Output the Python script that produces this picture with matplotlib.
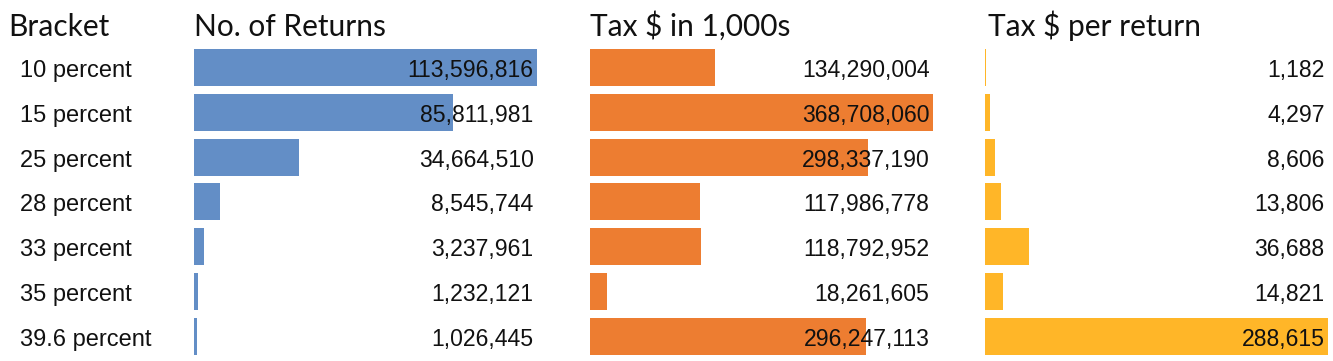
import numpy as np
import matplotlib
matplotlib.use("Agg")
from matplotlib import pyplot as plt
from matplotlib import transforms

# data
brackets = ["10 percent", "15 percent", "25 percent", "28 percent",
            "33 percent", "35 percent", "39.6 percent"]
returns = [113596816, 85811981, 34664510, 8545744, 3237961, 1232121, 1026445]
tax_1000s = [134290004, 368708060, 298337190, 117986778, 118792952, 18261605, 296247113]
tax_per_return = [1182, 4297, 8606, 13806, 36688, 14821, 288615]

headers = ["Bracket", "No. of Returns", "Tax $ in 1,000s", "Tax $ per return"]
colors = ["#638EC6", "#ED7D31", "#FFB628"]

W, H = 1333, 361
fig = plt.figure(figsize=(W / 100, H / 100), dpi=100)

row_h = 44.8
top = 45.0
n = len(brackets)
col_left = [194, 590, 985]
col_w = 343

num_font = "Liberation Sans"
head_font = "Lato"
base_off = 9.5 / row_h  # text baseline sits a bit below bar centre

axes = []
for i, vals in enumerate([returns, tax_1000s, tax_per_return]):
    ax = fig.add_axes([col_left[i] / W, 1 - (top + n * row_h) / H, col_w / W, n * row_h / H])
    y = np.arange(n)
    ax.barh(y, vals, height=37 / row_h, color=colors[i], linewidth=0)
    ax.set_xlim(0, max(vals))
    ax.set_ylim(n - 0.5, -0.5)
    ax.axis("off")
    tr = transforms.blended_transform_factory(ax.transAxes, ax.transData)
    for k, v in enumerate(vals):
        ax.text(0.99, k + base_off, f"{v:,}", transform=tr, ha="right", va="baseline",
                fontsize=16.6, family=num_font, color="#111111")
    axes.append(ax)

# bracket labels
trb = transforms.blended_transform_factory(fig.transFigure, axes[0].transData)
for k, b in enumerate(brackets):
    axes[0].text(20 / W, k + base_off, b, transform=trb, ha="left", va="baseline",
                 fontsize=17, family=num_font, color="#111111")

# headers
head_x = [8, 194, 590, 988]
for hx, h in zip(head_x, headers):
    fig.text(hx / W, 1 - 36 / H, h, ha="left", va="baseline",
             fontsize=21.5, family=head_font, color="#111111")

fig.savefig("out.png", dpi=100, facecolor="white")
